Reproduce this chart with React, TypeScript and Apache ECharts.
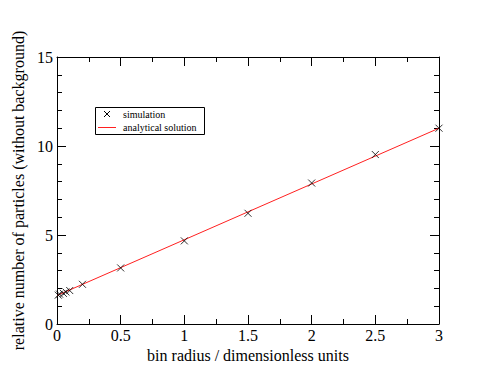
import React, { useEffect, useRef } from "react";
import * as echarts from "echarts";

const simX = [0.01, 0.02, 0.05, 0.07, 0.1, 0.2, 0.5, 1, 1.5, 2, 2.5, 3];
const simY = [1.62, 1.68, 1.72, 1.8, 1.88, 2.23, 3.15, 4.67, 6.22, 7.92, 9.52, 11.0];
const lineX = [0, 3];
const lineY = [1.6, 11.0];

const FONT = "'Liberation Serif', 'Times New Roman', serif";

export default function App() {
  const ref = useRef<HTMLDivElement>(null);
  useEffect(() => {
    const chart = echarts.init(ref.current!, null, { renderer: "svg" });
    const axisLine = { show: true, onZero: false, lineStyle: { color: "#000", width: 1 } };
    const tick = { show: true, inside: true, length: 9, lineStyle: { color: "#000" } };
    chart.setOption({
      animation: false,
      backgroundColor: "#fff",
      textStyle: { fontFamily: FONT },
      grid: { left: 57, right: 55, top: 57, bottom: 58 },
      xAxis: [
        {
          type: "value", min: 0, max: 3, interval: 0.5,
          axisLine, axisTick: tick,
          minorTick: { show: true, splitNumber: 2, length: 5, lineStyle: { color: "#000" } },
          splitLine: { show: false },
          axisLabel: { color: "#000", fontFamily: FONT, fontSize: 16, margin: 3 },
          name: "bin radius / dimensionless units",
          nameLocation: "middle", nameGap: 20,
          nameTextStyle: { color: "#000", fontFamily: FONT, fontSize: 16 },
        },
        {
          type: "value", min: 0, max: 3, interval: 0.5, position: "top",
          axisLine, axisTick: tick,
          minorTick: { show: true, splitNumber: 2, length: 5, lineStyle: { color: "#000" } },
          splitLine: { show: false }, axisLabel: { show: false },
        },
      ],
      yAxis: [
        {
          type: "value", min: 0, max: 15, interval: 5,
          axisLine, axisTick: tick,
          minorTick: { show: true, splitNumber: 5, length: 5, lineStyle: { color: "#000" } },
          splitLine: { show: false },
          axisLabel: { color: "#000", fontFamily: FONT, fontSize: 16, margin: 4 },
          name: "relative number of particles (without background)",
          nameLocation: "middle", nameGap: 23,
          nameTextStyle: { color: "#000", fontFamily: FONT, fontSize: 16 },
        },
        {
          type: "value", min: 0, max: 15, interval: 5, position: "right",
          axisLine, axisTick: tick,
          minorTick: { show: true, splitNumber: 5, length: 5, lineStyle: { color: "#000" } },
          splitLine: { show: false }, axisLabel: { show: false },
        },
      ],
      series: [
        {
          name: "analytical solution",
          type: "line",
          data: lineX.map((x, i) => [x, lineY[i]]),
          showSymbol: false,
          lineStyle: { color: "#ff2020", width: 1 },
          z: 2,
        },
        {
          name: "simulation",
          type: "scatter",
          data: simX.map((x, i) => [x, simY[i]]),
          symbol: "path://M0,0L10,10M10,0L0,10",
          symbolSize: 7,
          itemStyle: { color: "none", borderColor: "#000", borderWidth: 1 },
          z: 3,
        },
      ],
      graphic: [
        {
          type: "rect",
          shape: { x: 95.5, y: 107.5, width: 109, height: 27 },
          style: { fill: "#fff", stroke: "#000", lineWidth: 1 },
        },
        { type: "line", shape: { x1: 104, y1: 111, x2: 110, y2: 117 }, style: { stroke: "#000", lineWidth: 1 } },
        { type: "line", shape: { x1: 110, y1: 111, x2: 104, y2: 117 }, style: { stroke: "#000", lineWidth: 1 } },
        { type: "line", shape: { x1: 98, y1: 127.5, x2: 116, y2: 127.5 }, style: { stroke: "#ff2020", lineWidth: 1 } },
        {
          type: "text", x: 123, y: 114,
          style: { text: "simulation", fill: "#000", fontFamily: FONT, fontSize: 10, verticalAlign: "middle" },
        },
        {
          type: "text", x: 123, y: 127,
          style: { text: "analytical solution", fill: "#000", fontFamily: FONT, fontSize: 10, verticalAlign: "middle" },
        },
      ],
    });
    return () => chart.dispose();
  }, []);
  return <div ref={ref} style={{ width: 494, height: 382, position: "absolute", left: 0, top: 0 }} />;
}
